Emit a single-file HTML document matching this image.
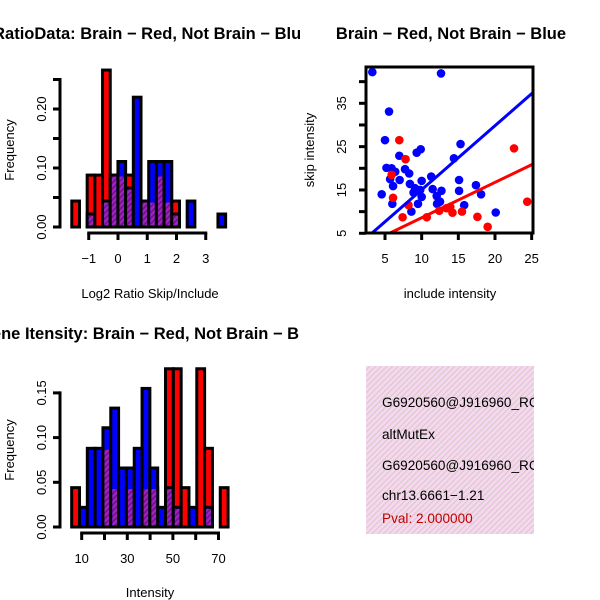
<!DOCTYPE html>
<html><head><meta charset="utf-8"><style>
html,body{margin:0;padding:0;background:#fff}
svg{display:block;font-family:"Liberation Sans",sans-serif}
</style></head><body>
<svg id="c" width="600" height="600" viewBox="0 0 600 600">
<defs>
<pattern id="purp" width="4" height="4" patternUnits="userSpaceOnUse" patternTransform="rotate(45)">
<rect width="4" height="4" fill="#a020c0"/><rect width="1.5" height="4" fill="#6a1480"/></pattern>
<pattern id="pink" width="4" height="4" patternUnits="userSpaceOnUse" patternTransform="rotate(45)">
<rect width="4" height="4" fill="#f8d6f2"/><rect width="1.1" height="4" fill="#d4ccc4"/></pattern>
<clipPath id="cl"><rect x="0" y="0" width="300" height="600"/></clipPath>
<clipPath id="cbox"><rect x="366" y="366" width="168" height="168"/></clipPath>
<clipPath id="csc"><rect x="366" y="67" width="167" height="166"/></clipPath>
</defs>
<g id="tl"></g>
<g id="bl"></g>
<g id="sc"></g>
<g>
<rect x="366" y="366" width="168" height="168" fill="url(#pink)"/>
<g clip-path="url(#cbox)" font-size="13.6">
<text x="382" y="407">G6920560@J916960_RC</text>
<text x="382" y="439">altMutEx</text>
<text x="382" y="470">G6920560@J916960_RC</text>
<text x="382" y="500">chr13.6661−1.21</text>
<text x="382" y="523" fill="#c00000">Pval: 2.000000</text>
</g></g>
</svg>
<script>
// Ratio histogram data
const tlBinStart = -1.58, tlBinWidth = 0.263;
const tlRed  = [0.044,0,0.088,0.088,0.266,0.088,0.088,0.088,0,0.044,0.044,0.088,0.044,0.044,0,0,0,0,0,0];
const tlBlue = [0,0,0.022,0,0.044,0.088,0.111,0.066,0.22,0.044,0.111,0.111,0.111,0.022,0,0.044,0,0,0,0.022];
const tlXTicks = [-1,0,1,2,3];
const tlYTicks = [0,0.05,0.1,0.15,0.2,0.25];
const tlYLabels = ["0.00","0.10","0.20"];
// Intensity histogram data
const blBinStart = 5.6, blBinWidth = 3.43;
const blRed  = [0.044,0,0,0,0.088,0.044,0,0.044,0,0.044,0.044,0,0.177,0.177,0.044,0,0.177,0.088,0,0.044];
const blBlue = [0,0.022,0.088,0.088,0.111,0.133,0.066,0.066,0.088,0.155,0.066,0.022,0.044,0.022,0,0.022,0,0.022,0,0];
const blXTicks = [10,20,30,40,50,60,70];
const blXLabels = [10,30,50,70];
const blYTicks = [0,0.05,0.1,0.15];
const blYLabels = ["0.00","0.05","0.10","0.15"];
// Scatter data
const blueX = [3.27,12.64,5.55,5.0,15.3,9.87,9.32,6.95,14.4,5.2,5.9,7.73,8.3,6.4,11.3,15.1,10.0,5.7,7.0,6.1,8.4,17.4,9.1,11.5,9.8,12.7,15.1,8.9,4.55,18.1,12.05,10.0,12.5,6.0,9.5,15.8,12.1,8.6,20.1];
const blueY = [42.2,41.9,33.1,26.5,25.6,24.4,23.6,22.9,22.3,20.1,20.0,19.8,18.8,19.2,18.1,17.3,17.1,17.5,17.3,15.9,16.4,16.1,15.4,15.2,15.0,14.8,14.8,14.4,14.0,14.0,13.6,13.4,12.3,11.8,11.8,11.5,11.8,10.0,9.8];
const redX = [6.95,22.6,7.8,5.9,6.1,8.2,24.4,7.4,10.7,12.4,13.4,14.2,15.5,17.6,19.0,13.9];
const redY = [26.5,24.6,22.1,18.5,13.2,11.5,12.3,8.7,8.7,10.2,10.8,9.75,10.0,8.8,6.5,11.1];
const blueFit = [0.29,1.477]; // intercept, slope
const redFit = [0.43,0.816];
const scXTicks = [5,10,15,20,25];
const scYTicks = [5,10,15,20,25,30,35,40];
const scYLabels = [5,15,25,35];

const NS="http://www.w3.org/2000/svg";
function mk(parent,tag,attrs,text){const e=document.createElementNS(NS,tag);for(const k in attrs)e.setAttribute(k,attrs[k]);if(text!==undefined)e.textContent=text;parent.appendChild(e);return e;}

function hist(g,red,blue,start,w,xs,ys){
  for(let i=0;i<red.length;i++){
    const a=xs(start+i*w),b=xs(start+(i+1)*w);
    if(red[i]>0||blue[i]===0){
      const r=mk(g,'rect',{x:a,y:ys(red[i]),width:b-a,height:ys(0)-ys(red[i]),fill:'#ff0000',stroke:'#000','stroke-width':3});
      
      
    }
    if(blue[i]>0){
      const r=mk(g,'rect',{x:a,y:ys(blue[i]),width:b-a,height:ys(0)-ys(blue[i]),fill:'#0000ff',stroke:'#000','stroke-width':3});
      
      
    }
    const m=Math.min(red[i],blue[i]);
    if(m>0){
      const r=mk(g,'rect',{x:a+1.5,y:ys(m)+1.5,width:b-a-3,height:ys(0)-ys(m)-3,fill:'url(#purp)'});
      
      
    }
  }
}
function axisX(g,ticks,labels,xs,y,ly){
  mk(g,'line',{x1:xs(ticks[0]),x2:xs(ticks[ticks.length-1]),y1:y,y2:y,stroke:'#000','stroke-width':3,'stroke-linecap':'square'});
  ticks.forEach(t=>mk(g,'line',{x1:xs(t),x2:xs(t),y1:y,y2:y+7,stroke:'#000','stroke-width':3}));
  labels.forEach(t=>{const e=mk(g,'text',{x:xs(t),y:ly,'text-anchor':'middle','font-size':13},String(t).replace('-','−'));
    
    });
}
function axisY(g,ticks,labels,ys,x,lx){
  mk(g,'line',{x1:x,x2:x,y1:ys(ticks[0]),y2:ys(ticks[ticks.length-1]),stroke:'#000','stroke-width':3,'stroke-linecap':'square'});
  ticks.forEach(t=>mk(g,'line',{x1:x,x2:x-7,y1:ys(t),y2:ys(t),stroke:'#000','stroke-width':3}));
  labels.forEach(t=>{const v=parseFloat(t);const e=mk(g,'text',{x:lx,y:ys(v),'text-anchor':'middle','font-size':13,transform:`rotate(-90 ${lx} ${ys(v)})`},String(t));
    
    });
}
// Top-left
(function(){
  const g=document.getElementById('tl');
  const xs=u=>118+29.25*u, ys=f=>227-f*590;
  hist(g,tlRed,tlBlue,tlBinStart,tlBinWidth,xs,ys);
  axisX(g,tlXTicks,tlXTicks,xs,233,263);
  axisY(g,tlYTicks,tlYLabels,ys,60,46);
  let t=mk(g,'text',{x:132,y:39,'text-anchor':'middle','font-size':16.5,'font-weight':'bold','clip-path':'url(#cl)'},'Log2RatioData: Brain − Red, Not Brain − Blue');
  
  t=mk(g,'text',{x:150,y:298,'text-anchor':'middle','font-size':13},'Log2 Ratio Skip/Include');
  
  t=mk(g,'text',{x:14,y:150,'text-anchor':'middle','font-size':13,transform:'rotate(-90 14 150)'},'Frequency');
  
})();
// Bottom-left
(function(){
  const g=document.getElementById('bl');
  const xs=v=>81.7+(v-10)*2.28, ys=f=>527-f*894;
  hist(g,blRed,blBlue,blBinStart,blBinWidth,xs,ys);
  axisX(g,blXTicks,blXLabels,xs,533,563);
  axisY(g,blYTicks,blYLabels,ys,60,46);
  let t=mk(g,'text',{x:151,y:339,'text-anchor':'middle','font-size':16.5,'font-weight':'bold','clip-path':'url(#cl)'},'Gene Itensity: Brain − Red, Not Brain − Blue');
  
  t=mk(g,'text',{x:150,y:597,'text-anchor':'middle','font-size':13},'Intensity');
  
  t=mk(g,'text',{x:14,y:450,'text-anchor':'middle','font-size':13,transform:'rotate(-90 14 450)'},'Frequency');
  
})();
// Scatter
(function(){
  const g=document.getElementById('sc');
  const xs=v=>385+(v-5)*7.333, ys=v=>233.3-(v-5)*4.333;
  const inner=mk(g,'g',{'clip-path':'url(#csc)'});
  blueX.forEach((x,i)=>{const c=mk(inner,'circle',{cx:xs(x),cy:ys(blueY[i]),r:4.3,fill:'#0000ff'});
    });
  redX.forEach((x,i)=>{const c=mk(inner,'circle',{cx:xs(x),cy:ys(redY[i]),r:4.3,fill:'#ff0000'});
    });
  let l=mk(inner,'line',{x1:xs(0),y1:ys(blueFit[0]),x2:xs(30),y2:ys(blueFit[0]+blueFit[1]*30),stroke:'#0000ff','stroke-width':3});
  
  l=mk(inner,'line',{x1:xs(0),y1:ys(redFit[0]),x2:xs(30),y2:ys(redFit[0]+redFit[1]*30),stroke:'#ff0000','stroke-width':3});
  
  const f=mk(g,'rect',{x:366,y:67,width:167,height:166,fill:'none',stroke:'#000','stroke-width':3});
  
  scXTicks.forEach(t=>mk(g,'line',{x1:xs(t),x2:xs(t),y1:233,y2:240,stroke:'#000','stroke-width':3}));
  scXTicks.forEach(t=>{const e=mk(g,'text',{x:xs(t),y:263,'text-anchor':'middle','font-size':13},String(t));
    });
  scYTicks.forEach(t=>mk(g,'line',{x1:366,x2:359,y1:ys(t),y2:ys(t),stroke:'#000','stroke-width':3}));
  scYLabels.forEach(t=>{const e=mk(g,'text',{x:346,y:ys(t),'text-anchor':'middle','font-size':13,transform:`rotate(-90 346 ${ys(t)})`},String(t));
    });
  let t=mk(g,'text',{x:451,y:39,'text-anchor':'middle','font-size':16.5,'font-weight':'bold'},'Brain − Red, Not Brain − Blue');
  
  t=mk(g,'text',{x:450,y:298,'text-anchor':'middle','font-size':13},'include intensity');
  
  t=mk(g,'text',{x:314,y:150,'text-anchor':'middle','font-size':13,transform:'rotate(-90 314 150)'},'skip intensity');
  
})();
</script>
</body></html>
